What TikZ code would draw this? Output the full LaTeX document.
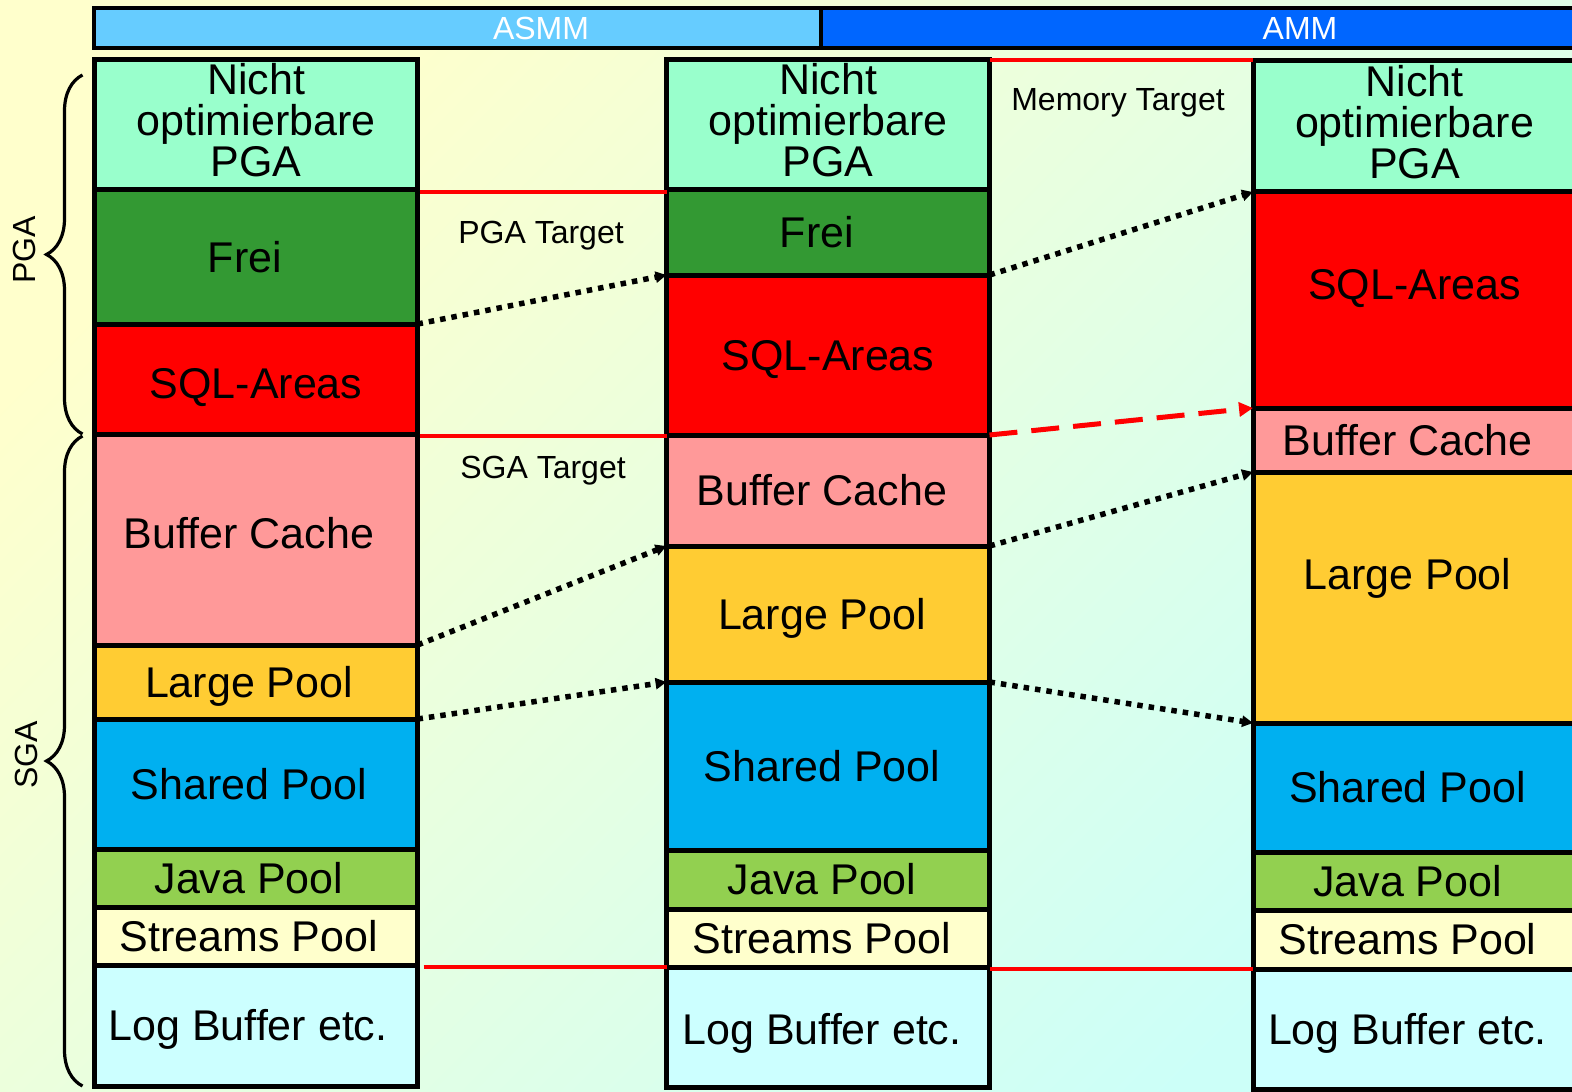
\documentclass[tikz,border=0pt]{standalone}
\usepackage{fontspec}
\setmainfont{Liberation Sans}
\usepackage{tikz}
\usetikzlibrary{arrows.meta,positioning,decorations.pathreplacing}
\definecolor{nopga}{HTML}{99FFCC}
\definecolor{frei}{HTML}{339933}
\definecolor{sqlred}{HTML}{FF0000}
\definecolor{bufpink}{HTML}{FF9999}
\definecolor{largep}{HTML}{FFCC33}
\definecolor{sharedp}{HTML}{00B0F0}
\definecolor{javap}{HTML}{92D050}
\definecolor{streamsp}{HTML}{FFFFCC}
\definecolor{logbuf}{HTML}{CCFFFF}
\definecolor{asmm}{HTML}{66CCFF}
\definecolor{amm}{HTML}{0066FF}
\definecolor{bgtop}{HTML}{FFFFCC}
\definecolor{bgbot}{HTML}{CCFFF8}

\begin{document}
\begin{tikzpicture}[
  x=0.5pt,y=-0.5pt,
  block/.style={draw=black,line width=2.5pt,minimum width=161.5pt,inner sep=0pt,outer sep=0pt,align=center,font=\fontsize{21.5}{20.5}\selectfont},
  oneline/.style={text height=19pt,text depth=4pt},
  nicht/.style={text depth=5pt},
  nudge/.style={execute at end node={\hspace*{#1}}},
  bar/.style={draw=black,line width=2pt,minimum height=20pt,inner sep=0pt,outer sep=0pt,text=white,font=\fontsize{16}{17}\selectfont},
  note/.style={font=\fontsize{16}{17}\selectfont},
  targetline/.style={draw=red,line width=2pt},
  moveblack/.style={-{Triangle[length=5.5pt,width=5.5pt]},line width=2.75pt,dash pattern=on 2.75pt off 3pt},
  movered/.style={-{Triangle[length=7pt,width=7pt]},draw=red,line width=2.5pt,dash pattern=on 14pt off 7pt},
  curly/.style={decorate,decoration={brace,amplitude=18pt},line width=1.6pt}
]
  \shade[top color=bgtop,bottom color=bgbot,shading angle=45] (0,0) rectangle (1572,1091);
  \useasboundingbox (0,0) rectangle (1572,1091);

  % header
  \node[bar,fill=asmm,minimum width=447pt,anchor=north west] (asmm) at (94,8) {ASMM};
  \node[bar,fill=amm,minimum width=479pt,anchor=north west] (amm) at (821,8) {AMM};

  % ASMM, PGA target
  \node[block,nicht,fill=nopga,minimum height=65pt,anchor=north west] (l-nicht) at (94.5,60) {Nicht\\optimierbare\\PGA};
  \node[block,oneline,nudge=11pt,fill=frei,minimum height=67pt,below=0pt of l-nicht] (l-frei) {Frei};
  \node[block,oneline,text height=23pt,fill=sqlred,minimum height=55pt,below=0pt of l-frei] (l-sql) {SQL-Areas};
  \node[block,oneline,nudge=7pt,text depth=10pt,fill=bufpink,minimum height=105.5pt,below=0pt of l-sql] (l-buffer) {Buffer Cache};
  \node[block,oneline,nudge=7pt,fill=largep,minimum height=37pt,below=0pt of l-buffer] (l-large) {Large Pool};
  \node[block,oneline,nudge=7pt,fill=sharedp,minimum height=65pt,below=0pt of l-large] (l-shared) {Shared Pool};
  \node[block,oneline,nudge=7pt,fill=javap,minimum height=29pt,below=0pt of l-shared] (l-java) {Java Pool};
  \node[block,oneline,nudge=7pt,fill=streamsp,minimum height=29pt,below=0pt of l-java] (l-streams) {Streams Pool};
  \node[block,oneline,nudge=8pt,fill=logbuf,minimum height=60.5pt,below=0pt of l-streams] (l-log) {Log Buffer etc.};

  % ASMM, SGA target
  \node[block,nicht,fill=nopga,minimum height=65pt,anchor=north west] (m-nicht) at (666.5,60) {Nicht\\optimierbare\\PGA};
  \node[block,oneline,nudge=11pt,fill=frei,minimum height=42.5pt,below=0pt of m-nicht] (m-frei) {Frei};
  \node[block,oneline,fill=sqlred,minimum height=80pt,below=0pt of m-frei] (m-sql) {SQL-Areas};
  \node[block,oneline,nudge=6pt,fill=bufpink,minimum height=55.5pt,below=0pt of m-sql] (m-buffer) {Buffer Cache};
  \node[block,oneline,nudge=6pt,fill=largep,minimum height=68pt,below=0pt of m-buffer] (m-large) {Large Pool};
  \node[block,oneline,nudge=6pt,fill=sharedp,minimum height=84pt,below=0pt of m-large] (m-shared) {Shared Pool};
  \node[block,oneline,nudge=6pt,fill=javap,minimum height=29.5pt,below=0pt of m-shared] (m-java) {Java Pool};
  \node[block,oneline,nudge=6pt,fill=streamsp,minimum height=29pt,below=0pt of m-java] (m-streams) {Streams Pool};
  \node[block,oneline,nudge=6pt,text height=21pt,fill=logbuf,minimum height=60pt,below=0pt of m-streams] (m-log) {Log Buffer etc.};

  % AMM
  \node[block,nicht,fill=nopga,minimum height=65.5pt,anchor=north west] (r-nicht) at (1253,61) {Nicht\\optimierbare\\PGA};
  \node[block,oneline,text depth=20pt,fill=sqlred,minimum height=108pt,below=0pt of r-nicht] (r-sql) {SQL-Areas};
  \node[block,oneline,nudge=7pt,fill=bufpink,minimum height=32pt,below=0pt of r-sql] (r-buffer) {Buffer Cache};
  \node[block,oneline,nudge=7pt,text depth=27pt,fill=largep,minimum height=125.5pt,below=0pt of r-buffer] (r-large) {Large Pool};
  \node[block,oneline,nudge=7pt,fill=sharedp,minimum height=64.5pt,below=0pt of r-large] (r-shared) {Shared Pool};
  \node[block,oneline,nudge=7pt,fill=javap,minimum height=29pt,below=0pt of r-shared] (r-java) {Java Pool};
  \node[block,oneline,nudge=7pt,fill=streamsp,minimum height=29.5pt,below=0pt of r-java] (r-streams) {Streams Pool};
  \node[block,oneline,nudge=7pt,fill=logbuf,minimum height=60pt,below=0pt of r-streams] (r-log) {Log Buffer etc.};

  % targets
  \draw[targetline] ([xshift=1pt,yshift=-1pt]l-frei.north east) -- ([yshift=-1pt]m-frei.north west);
  \draw[targetline] ([xshift=1pt,yshift=-1pt]l-buffer.north east) -- ([yshift=-1pt]l-buffer.north east -| m-buffer.north west);
  \draw[targetline] ([xshift=3pt]l-log.north east |- m-log.north west) -- (m-log.north west);
  \draw[targetline] (m-nicht.north east) -- (m-nicht.north east -| r-nicht.north west);
  \draw[targetline] ([yshift=-1pt]m-log.north east) -- ([yshift=-1pt]m-log.north east -| r-log.north west);
  \node[note] (pgatarget) at (541,236) {PGA Target};
  \node[note] (sgatarget) at (543,471) {SGA Target};
  \node[note] (memtarget) at (1118,103) {Memory Target};

  % PGA / SGA
  \draw[curly] ([xshift=-6pt]l-sql.south west) -- ([xshift=-6pt,yshift=-7.5pt]l-nicht.north west);
  \draw[curly] ([xshift=-6pt]l-log.south west) -- ([xshift=-6pt,yshift=-1pt]l-buffer.north west);
  \node[note,rotate=90] (pga) at (24,250) {PGA};
  \node[note,rotate=90] (sga) at (26,755) {SGA};

  % shifts
  \draw[moveblack] (l-frei.south east) -- (m-frei.south west);
  \draw[moveblack] (l-buffer.south east) -- (m-buffer.south west);
  \draw[moveblack] (l-large.south east) -- (m-large.south west);
  \draw[moveblack] (m-frei.south east) -- (r-nicht.south west);
  \draw[movered] (m-sql.south east) -- (r-sql.south west);
  \draw[moveblack] (m-buffer.south east) -- (r-buffer.south west);
  \draw[moveblack] (m-large.south east) -- (r-large.south west);
\end{tikzpicture}
\end{document}
